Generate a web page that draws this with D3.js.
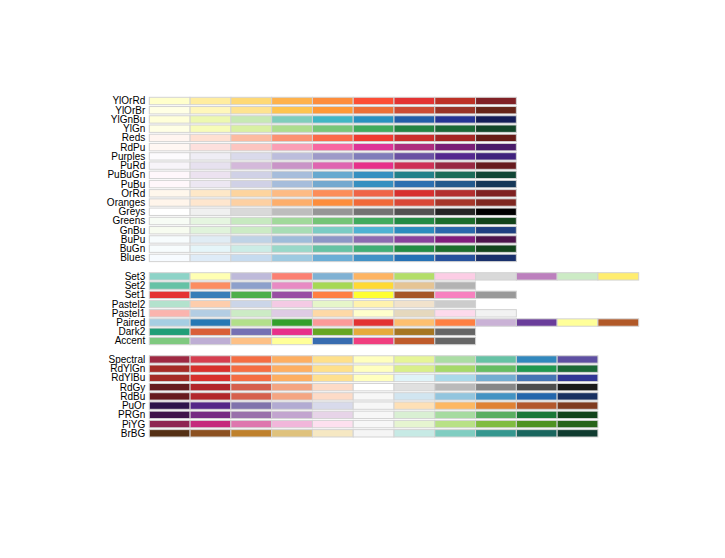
<!DOCTYPE html>
<html>
<head>
<meta charset="utf-8">
<script src="https://cdn.jsdelivr.net/npm/d3@7"></script>
<style>
  body { margin: 0; background: #fff; }
  text { font-family: "Liberation Sans", Arial, sans-serif; font-size: 10px; fill: #000; }
</style>
</head>
<body>
<script>
// palettes, listed bottom to top like display.brewer.all()
var divList = ["BrBG", "PiYG", "PRGn", "PuOr", "RdBu", "RdGy", "RdYlBu", "RdYlGn", "Spectral"];
var divMax = [11, 11, 11, 11, 11, 11, 11, 11, 11];
var quaList = ["Accent", "Dark2", "Paired", "Pastel1", "Pastel2", "Set1", "Set2", "Set3"];
var quaMax = [8, 8, 12, 9, 8, 9, 8, 12];
var seqList = ["Blues", "BuGn", "BuPu", "GnBu", "Greens", "Greys", "Oranges", "OrRd", "PuBu",
               "PuBuGn", "PuRd", "Purples", "RdPu", "Reds", "YlGn", "YlGnBu", "YlOrBr", "YlOrRd"];
var seqMax = [9, 9, 9, 9, 9, 9, 9, 9, 9, 9, 9, 9, 9, 9, 9, 9, 9, 9];

var pal = divList.concat([""], quaList, [""], seqList);
var maxColors = divMax.concat([0], quaMax, [0], seqMax);
var nr = pal.length;

var width = 725, height = 558;

var x = d3.scaleLinear().domain([0, 12]).range([149.3, 638.7]);
var y = d3.scaleLinear().domain([0, nr]).range([437, 95.45]);

function colorsFor(name, n) {
  var s = d3["scheme" + name];
  return Array.isArray(s[n]) ? s[n] : s.slice(0, n);
}

// the reference is a bit washed out: near-zero channels of vivid colours are lifted
function soften(c) {
  var o = d3.rgb(c), m = Math.max(o.r, o.g, o.b);
  if (m === 0) return o.formatHex();
  function lift(v) { return v + 0.26 * m * Math.max(0, 1 - (v / m) / 0.2); }
  return d3.rgb(lift(o.r), lift(o.g), lift(o.b)).formatHex();
}

var svg = d3.select("body").append("svg")
  .attr("width", width)
  .attr("height", height);

var rows = [];
pal.forEach(function(p, k) {
  if (p === "") return;
  rows.push({name: p, i: k + 1, colors: colorsFor(p, maxColors[k])});
});

var g = svg.selectAll("g.row")
  .data(rows)
  .enter().append("g")
  .attr("class", "row");

g.selectAll("rect")
  .data(function(d) { return d.colors.map(function(c, j) { return {c: c, j: j, i: d.i}; }); })
  .enter().append("rect")
  .attr("x", function(d) { return x(d.j); })
  .attr("width", function(d) { return x(d.j + 1) - x(d.j); })
  .attr("y", function(d) { return y(d.i - 0.2); })
  .attr("height", function(d) { return y(d.i - 1) - y(d.i - 0.2); })
  .attr("fill", function(d) { return soften(d.c); })
  .attr("stroke", "#d3d3d3")
  .attr("stroke-width", 1);

g.append("text")
  .attr("x", x(-0.1))
  .attr("y", function(d) { return y(d.i - 0.6); })
  .attr("dy", "0.35em")
  .attr("text-anchor", "end")
  .text(function(d) { return d.name; });
</script>
</body>
</html>
